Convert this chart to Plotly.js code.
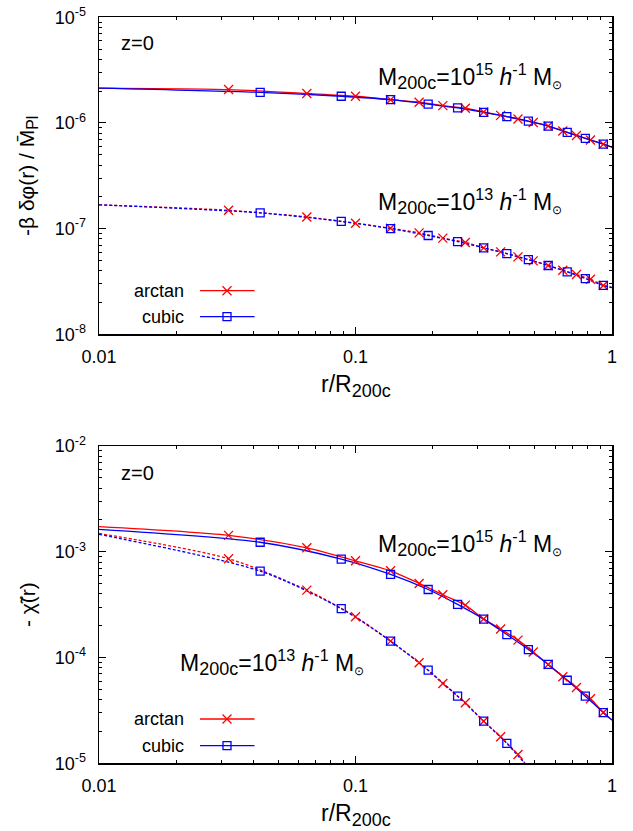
<!DOCTYPE html>
<html>
<head>
<meta charset="utf-8">
<script src="https://cdn.plot.ly/plotly-3.0.1.min.js"></script>
<style>html,body{margin:0;padding:0;background:#fff;}#plot{width:633px;height:831px;}</style>
</head>
<body>
<div id="plot"></div>
<script>
// ---------------- data ----------------
const rArctan = [0.0320, 0.0646, 0.100, 0.137, 0.177, 0.219, 0.268, 0.316, 0.368, 0.430, 0.493, 0.564, 0.643, 0.727, 0.824, 0.925];
const rCubic  = [0.0425, 0.088, 0.137, 0.192, 0.250, 0.316, 0.389, 0.472, 0.564, 0.669, 0.787, 0.925];
const rEdge = [0.01, 1];

// top panel: -beta dphi / MPl
const phiArctan15 = [2.07e-6, 1.90e-6, 1.79e-6, 1.66e-6, 1.57e-6, 1.46e-6, 1.38e-6, 1.27e-6, 1.18e-6, 1.09e-6, 1.01e-6, 0.937e-6, 0.84e-6, 0.762e-6, 0.69e-6, 0.63e-6];
const phiCubic15  = [1.95e-6, 1.79e-6, 1.66e-6, 1.51e-6, 1.39e-6, 1.26e-6, 1.15e-6, 1.04e-6, 0.935e-6, 0.815e-6, 0.714e-6, 0.63e-6];
const phiEdge15 = [2.14e-6, 0.59e-6];
const phiArctan13 = [1.49e-7, 1.29e-7, 1.125e-7, 1.01e-7, 0.912e-7, 0.813e-7, 0.74e-7, 0.658e-7, 0.603e-7, 0.54e-7, 0.495e-7, 0.448e-7, 0.404e-7, 0.368e-7, 0.332e-7, 0.29e-7];
const phiCubic13  = [1.41e-7, 1.17e-7, 1.0e-7, 0.861e-7, 0.755e-7, 0.658e-7, 0.58e-7, 0.51e-7, 0.448e-7, 0.39e-7, 0.337e-7, 0.29e-7];
const phiEdge13 = [1.68e-7, 0.277e-7];

// bottom panel: -chi~
const chiArctan15 = [1.43e-3, 1.09e-3, 0.822e-3, 0.661e-3, 0.502e-3, 0.392e-3, 0.313e-3, 0.231e-3, 0.186e-3, 0.146e-3, 0.113e-3, 0.086e-3, 0.0657e-3, 0.0521e-3, 0.0407e-3, 0.0302e-3];
const chiCubic15  = [1.23e-3, 0.853e-3, 0.611e-3, 0.44e-3, 0.318e-3, 0.231e-3, 0.165e-3, 0.119e-3, 0.086e-3, 0.061e-3, 0.0431e-3, 0.0302e-3];
const chiEdgeArctan15 = [1.73e-3, 0.0256e-3];
const chiEdgeCubic15  = [1.63e-3, 0.0256e-3];
const chiArctan13 = [0.859e-3, 0.434e-3, 0.243e-3, 0.143e-3, 0.0894e-3, 0.0568e-3, 0.0373e-3, 0.025e-3, 0.0178e-3, 0.0121e-3];
const chiCubic13  = [0.656e-3, 0.29e-3, 0.143e-3, 0.076e-3, 0.0431e-3, 0.025e-3, 0.0154e-3];
const rEdge13 = [0.01, 0.465];
const chiEdgeArctan13 = [1.49e-3, 0.95e-5];
const chiEdgeCubic13  = [1.46e-3, 0.95e-5];

const xTickVals = [0.01, 0.1, 1];
const xTickText = ['0.01', '0.1', '1'];
const yTopTickVals = [1e-8, 1e-7, 1e-6, 1e-5];
const yTopTickText = ['10<sup>-8</sup>', '10<sup>-7</sup>', '10<sup>-6</sup>', '10<sup>-5</sup>'];
const yBotTickVals = [1e-5, 1e-4, 1e-3, 1e-2];
const yBotTickText = ['10<sup>-5</sup>', '10<sup>-4</sup>', '10<sup>-3</sup>', '10<sup>-2</sup>'];
const seriesNames = ['arctan', 'cubic'];

// ---------------- helpers ----------------
const W = 633, H = 831;
const RED = '#ff0000', BLUE = '#0000ff';
const FONT = 'Liberation Sans, Arial, Helvetica, sans-serif';
const px = x => x / W;
const py = y => 1 - y / H;

function minorVals(decades) {
  const out = [];
  decades.forEach(d => { for (let k = 2; k <= 9; k++) out.push(k * d); });
  return out;
}

function withEdges(xs, ys, ex, ey) {
  return { x: [ex[0]].concat(xs, [ex[1]]), y: [ey[0]].concat(ys, [ey[1]]) };
}

function lineTrace(xs, ys, ex, ey, color, dash, xa, ya) {
  const d = withEdges(xs, ys, ex, ey);
  return { x: d.x, y: d.y, xaxis: xa, yaxis: ya, mode: 'lines', type: 'scatter',
    line: { color: color, width: 1.3, shape: 'spline', smoothing: 0.8, dash: dash },
    hoverinfo: 'skip', showlegend: false };
}
function markerTrace(xs, ys, isCross, xa, ya) {
  return { x: xs, y: ys, xaxis: xa, yaxis: ya, mode: 'markers', type: 'scatter',
    marker: isCross
      ? { symbol: 'x-thin-open', size: 9, color: RED, line: { color: RED, width: 1.3 } }
      : { symbol: 'square-open', size: 8, color: BLUE, line: { color: BLUE, width: 1.3 } },
    cliponaxis: true, hoverinfo: 'skip', showlegend: false };
}

const DASH = '3px,2px';
const traces = [
  // top panel
  lineTrace(rArctan, phiArctan15, rEdge, phiEdge15, RED, 'solid', 'x', 'y'),
  lineTrace(rCubic, phiCubic15, rEdge, phiEdge15, BLUE, 'solid', 'x', 'y'),
  lineTrace(rArctan, phiArctan13, rEdge, phiEdge13, RED, DASH, 'x', 'y'),
  lineTrace(rCubic, phiCubic13, rEdge, phiEdge13, BLUE, DASH, 'x', 'y'),
  markerTrace(rArctan, phiArctan15, true, 'x', 'y'),
  markerTrace(rCubic, phiCubic15, false, 'x', 'y'),
  markerTrace(rArctan, phiArctan13, true, 'x', 'y'),
  markerTrace(rCubic, phiCubic13, false, 'x', 'y'),
  // bottom panel
  lineTrace(rArctan, chiArctan15, rEdge, chiEdgeArctan15, RED, 'solid', 'x2', 'y2'),
  lineTrace(rCubic, chiCubic15, rEdge, chiEdgeCubic15, BLUE, 'solid', 'x2', 'y2'),
  lineTrace(rArctan.slice(0, chiArctan13.length), chiArctan13, rEdge13, chiEdgeArctan13, RED, DASH, 'x2', 'y2'),
  lineTrace(rCubic.slice(0, chiCubic13.length), chiCubic13, rEdge13, chiEdgeCubic13, BLUE, DASH, 'x2', 'y2'),
  markerTrace(rArctan, chiArctan15, true, 'x2', 'y2'),
  markerTrace(rCubic, chiCubic15, false, 'x2', 'y2'),
  markerTrace(rArctan.slice(0, chiArctan13.length), chiArctan13, true, 'x2', 'y2'),
  markerTrace(rCubic.slice(0, chiCubic13.length), chiCubic13, false, 'x2', 'y2')
];

function xAxis(domain, anchor) {
  return { type: 'log', domain: domain, anchor: anchor, range: [-2, 0],
    showline: true, linecolor: '#000', linewidth: 1.5, mirror: 'allticks',
    ticks: 'inside', ticklen: 7, tickwidth: 1, tickcolor: '#000',
    tickmode: 'array', tickvals: xTickVals, ticktext: xTickText,
    tickfont: { family: FONT, size: 18, color: '#000' }, ticklabelstandoff: 6,
    minor: { ticks: 'inside', ticklen: 3, tickwidth: 1, tickcolor: '#000', tickmode: 'array', tickvals: minorVals([0.01, 0.1]) },
    showgrid: false, zeroline: false, fixedrange: true };
}
function yAxis(domain, anchor, range, tv, tt, decs) {
  return { type: 'log', domain: domain, anchor: anchor, range: range,
    showline: true, linecolor: '#000', linewidth: 1.5, mirror: 'allticks',
    ticks: 'inside', ticklen: 7, tickwidth: 1, tickcolor: '#000',
    tickmode: 'array', tickvals: tv, ticktext: tt,
    tickfont: { family: FONT, size: 18, color: '#000' }, ticklabelstandoff: 8,
    minor: { ticks: 'inside', ticklen: 3, tickwidth: 1, tickcolor: '#000', tickmode: 'array', tickvals: minorVals(decs) },
    showgrid: false, zeroline: false, fixedrange: true };
}

const xDom = [px(99), px(612)];
const yTopDom = [py(334.3), py(17.3)];
const yBotDom = [py(763.3), py(446)];

function ann(text, x, y, opts) {
  return Object.assign({ text: text, x: px(x), y: py(y), xref: 'paper', yref: 'paper',
    showarrow: false, xanchor: 'left', yanchor: 'middle',
    font: { family: FONT, size: 20, color: '#000' } }, opts || {});
}
const sub = (t, s) => '<sub><span style="font-size:' + s + 'px">' + t + '</span></sub>';
const massLabel = e => 'M' + sub('200c', 18) + '=10<sup>' + e + '</sup> <i>h</i><sup>-1</sup> M' + sub('⊙', 12);

const annotations = [
  ann('z=0', 119, 43.3),
  ann('z=0', 119, 473.3),
  ann(massLabel(15), 376, 76, { font: { family: FONT, size: 23, color: '#000' } }),
  ann(massLabel(13), 376, 201, { font: { family: FONT, size: 23, color: '#000' } }),
  ann(massLabel(15), 376, 543, { font: { family: FONT, size: 23, color: '#000' } }),
  ann(massLabel(13), 178, 662, { font: { family: FONT, size: 23, color: '#000' } }),
  ann('-β δφ(r) / M̄' + sub('Pl', 16), 28, 176, { xanchor: 'center', textangle: -90, font: { family: FONT, size: 21, color: '#000' } }),
  ann('- χ̃(r)', 27, 605, { xanchor: 'center', textangle: -90, font: { family: FONT, size: 21, color: '#000' } }),
  ann('r/R' + sub('200c', 18), 355.5, 386, { xanchor: 'center', font: { family: FONT, size: 23, color: '#000' } }),
  ann('r/R' + sub('200c', 18), 355.5, 815, { xanchor: 'center', font: { family: FONT, size: 23, color: '#000' } })
];

// hand-made gnuplot-style keys (text left, sample right)
const shapes = [];
function key(yArc, yCub) {
  annotations.push(ann(seriesNames[0], 186, yArc, { xanchor: 'right', font: { family: FONT, size: 18, color: '#000' } }));
  annotations.push(ann(seriesNames[1], 186, yCub, { xanchor: 'right', font: { family: FONT, size: 18, color: '#000' } }));
  const x0 = 200, x1 = 254.5, xm = 227;
  shapes.push({ type: 'line', xref: 'paper', yref: 'paper', x0: px(x0), x1: px(x1), y0: py(yArc), y1: py(yArc), line: { color: RED, width: 1.3 } });
  shapes.push({ type: 'line', xref: 'paper', yref: 'paper', x0: px(x0), x1: px(x1), y0: py(yCub), y1: py(yCub), line: { color: BLUE, width: 1.3 } });
  const c = 4.5;
  shapes.push({ type: 'line', xref: 'paper', yref: 'paper', x0: px(xm - c), x1: px(xm + c), y0: py(yArc - c), y1: py(yArc + c), line: { color: RED, width: 1.3 } });
  shapes.push({ type: 'line', xref: 'paper', yref: 'paper', x0: px(xm - c), x1: px(xm + c), y0: py(yArc + c), y1: py(yArc - c), line: { color: RED, width: 1.3 } });
  const s = 4;
  shapes.push({ type: 'rect', xref: 'paper', yref: 'paper', x0: px(xm - s), x1: px(xm + s), y0: py(yCub + s), y1: py(yCub - s), line: { color: BLUE, width: 1.3 }, fillcolor: 'rgba(0,0,0,0)' });
}
key(290.7, 316.7);
key(719, 745.7);

const layout = {
  width: W, height: H, margin: { l: 0, r: 0, t: 0, b: 0 },
  paper_bgcolor: '#fff', plot_bgcolor: '#fff', showlegend: false,
  font: { family: FONT, size: 18, color: '#000' },
  xaxis: xAxis(xDom, 'y'),
  yaxis: yAxis(yTopDom, 'x', [-8, -5], yTopTickVals, yTopTickText, [1e-8, 1e-7, 1e-6]),
  xaxis2: xAxis(xDom, 'y2'),
  yaxis2: yAxis(yBotDom, 'x2', [-5, -2], yBotTickVals, yBotTickText, [1e-5, 1e-4, 1e-3]),
  annotations: annotations,
  shapes: shapes
};

Plotly.newPlot('plot', traces, layout, { staticPlot: true, displayModeBar: false });
</script>
</body>
</html>
